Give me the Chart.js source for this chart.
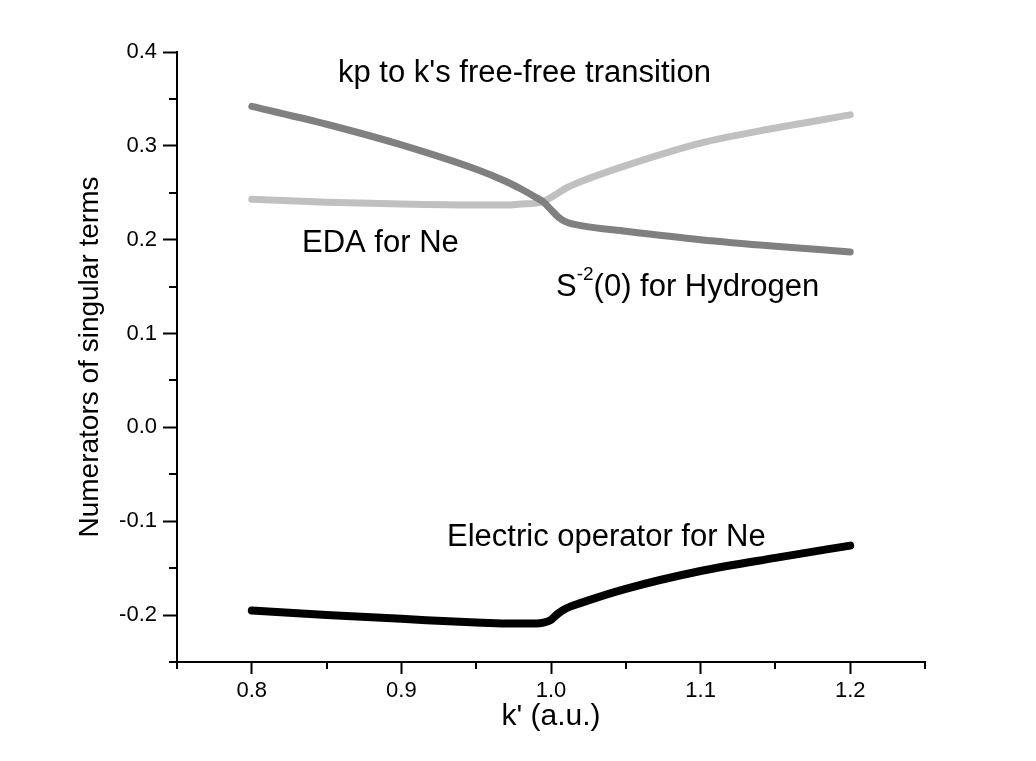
<!DOCTYPE html>
<html>
<head>
<meta charset="utf-8">
<script src="https://cdn.jsdelivr.net/npm/chart.js@4"></script>
<style>
  html, body { margin: 0; padding: 0; background: #fff; }
  #wrap { width: 1036px; height: 761px; }
</style>
</head>
<body>
<div id="wrap"><canvas id="chart" width="1036" height="761"></canvas></div>
<script>
// k' values (a.u.)
const kValues = [0.80, 0.85, 0.90, 0.95, 0.97, 0.98, 0.99, 0.995, 1.00, 1.005, 1.01, 1.02, 1.05, 1.10, 1.15, 1.20];

// kp to k's free-free transition (dark gray)
const freeFree = [0.342, 0.323, 0.301, 0.275, 0.262, 0.254, 0.245, 0.240, 0.232, 0.224, 0.219, 0.215, 0.209, 0.200, 0.193, 0.187];
// EDA for Ne (light gray)
const edaNe = [0.243, 0.240, 0.238, 0.237, 0.237, 0.238, 0.239, 0.241, 0.245, 0.250, 0.255, 0.262, 0.279, 0.303, 0.319, 0.333];
// Electric operator for Ne (black)
const electricNe = [-0.195, -0.200, -0.204, -0.208, -0.209, -0.209, -0.209, -0.208, -0.205, -0.198, -0.193, -0.187, -0.172, -0.153, -0.139, -0.126];

const xTicks = [0.8, 0.9, 1.0, 1.1, 1.2];
const yTicks = [-0.2, -0.1, 0.0, 0.1, 0.2, 0.3, 0.4];

const FONT = '"Liberation Sans", Arial, Helvetica, sans-serif';

function toPoints(ys) {
  return kValues.map((k, i) => ({ x: k, y: ys[i] }));
}

// small ticks between the labelled ones, and the text labels in the plot
const decorPlugin = {
  id: 'decor',
  afterDraw(chart) {
    const ctx = chart.ctx;
    const xs = chart.scales.x, ys = chart.scales.y;
    ctx.save();
    ctx.strokeStyle = '#000';
    ctx.lineWidth = 2;
    for (let v = 0.75; v <= 1.2501; v += 0.1) {
      const px = Math.round(xs.getPixelForValue(v));
      ctx.beginPath();
      ctx.moveTo(px, xs.top);
      ctx.lineTo(px, xs.top + 7);
      ctx.stroke();
    }
    for (let v = -0.25; v <= 0.3501; v += 0.1) {
      const py = Math.round(ys.getPixelForValue(v));
      ctx.beginPath();
      ctx.moveTo(ys.right, py);
      ctx.lineTo(ys.right - 8, py);
      ctx.stroke();
    }

    ctx.fillStyle = '#000';
    ctx.font = '31px ' + FONT;
    ctx.textBaseline = 'alphabetic';
    ctx.textAlign = 'left';
    ctx.fillText("kp to k's free-free transition", 338, 82);
    ctx.fillText('EDA for Ne', 302, 252);
    ctx.fillText('Electric operator for Ne', 447, 546);
    // S^-2(0) for Hydrogen
    let x = 556;
    ctx.fillText('S', x, 296);
    x += ctx.measureText('S').width;
    ctx.font = '19px ' + FONT;
    ctx.fillText('-2', x, 280);
    x += ctx.measureText('-2').width;
    ctx.font = '31px ' + FONT;
    ctx.fillText('(0) for Hydrogen', x, 296);
    ctx.restore();
  }
};

new Chart(document.getElementById('chart'), {
  type: 'line',
  data: {
    datasets: [
      { label: "kp to k's free-free transition", data: toPoints(freeFree), borderColor: '#808080', borderWidth: 7 },
      { label: 'EDA for Ne', data: toPoints(edaNe), borderColor: '#c0c0c0', borderWidth: 7 },
      { label: 'Electric operator for Ne', data: toPoints(electricNe), borderColor: '#000000', borderWidth: 8 }
    ]
  },
  options: {
    responsive: false,
    animation: false,
    layout: { padding: { top: 52, right: 111, bottom: 0, left: 0 } },
    elements: {
      point: { radius: 0 },
      line: { cubicInterpolationMode: 'monotone', borderCapStyle: 'round', borderJoinStyle: 'round' }
    },
    plugins: { legend: { display: false }, tooltip: { enabled: false } },
    scales: {
      x: {
        type: 'linear',
        min: 0.75,
        max: 1.25,
        afterBuildTicks(scale) { scale.ticks = xTicks.map(v => ({ value: v })); },
        afterFit(scale) { scale.height = 99; },
        ticks: {
          color: '#000',
          font: { family: FONT, size: 22 },
          padding: 4,
          maxRotation: 0,
          callback: v => v.toFixed(1)
        },
        grid: { drawOnChartArea: false, tickLength: 12, tickWidth: 2, tickColor: '#000' },
        border: { display: true, color: '#000', width: 2 },
        title: {
          display: true,
          text: "k' (a.u.)",
          color: '#000',
          font: { family: FONT, size: 30 },
          padding: { top: 0, bottom: 26 }
        }
      },
      y: {
        type: 'linear',
        min: -0.25,
        max: 0.4,
        afterBuildTicks(scale) { scale.ticks = yTicks.map(v => ({ value: v })); },
        afterFit(scale) { scale.width = 177; },
        ticks: {
          color: '#000',
          font: { family: FONT, size: 22 },
          padding: 6,
          callback: v => v.toFixed(1)
        },
        grid: { drawOnChartArea: false, tickLength: 14, tickWidth: 2, tickColor: '#000' },
        border: { display: true, color: '#000', width: 2 },
        title: {
          display: true,
          text: 'Numerators of singular terms',
          color: '#000',
          font: { family: FONT, size: 28 },
          padding: { top: 73, bottom: 73 }
        }
      }
    }
  },
  plugins: [decorPlugin]
});
</script>
</body>
</html>
